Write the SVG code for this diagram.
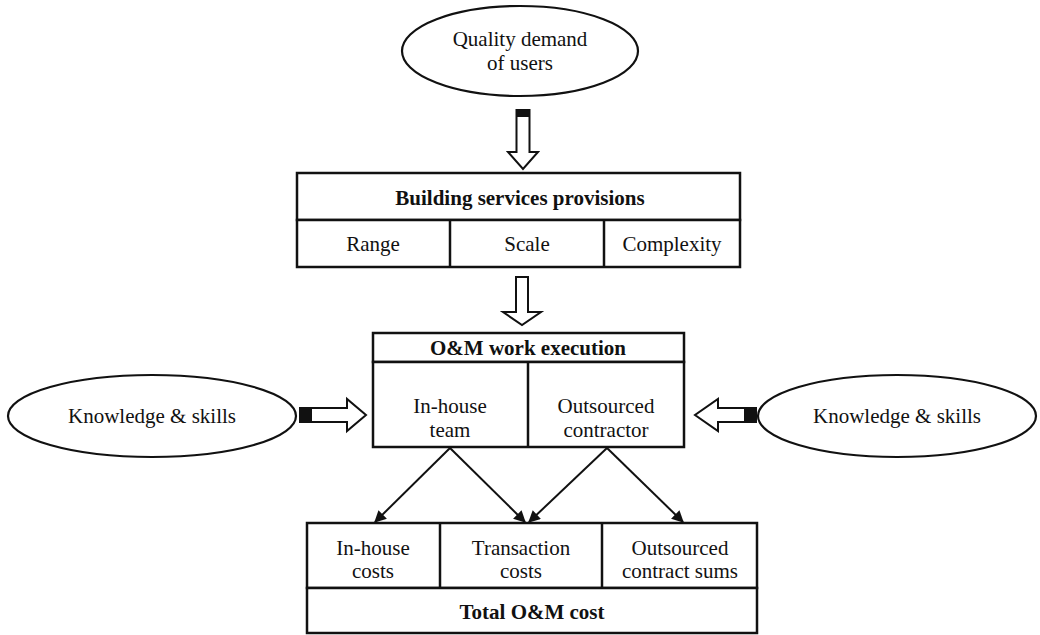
<svg xmlns="http://www.w3.org/2000/svg" width="1040" height="635" viewBox="0 0 1040 635">
  <style>
    .box { fill: #ffffff; stroke: #111111; stroke-width: 2.5; }
    .oval { fill: #ffffff; stroke: #111111; stroke-width: 2.2; }
    .block { fill: #ffffff; stroke: #111111; stroke-width: 2; stroke-linejoin: miter; }
    .tail { fill: #111111; }
    .link { stroke: #111111; stroke-width: 2; fill: none; }
    text { font-family: "Liberation Serif", "Times New Roman", serif; font-size: 21px; fill: #111111; text-anchor: middle; }
    .bold { font-weight: bold; }
  </style>
  <defs>
    <marker id="head" viewBox="0 0 10 10" refX="9" refY="5" markerWidth="13" markerHeight="12" markerUnits="userSpaceOnUse" orient="auto">
      <path d="M0,0 L10,5 L0,10 Z" fill="#111111"/>
    </marker>
  </defs>
  <rect width="1040" height="635" fill="#ffffff"/>

  <!-- user demand -->
  <g id="quality-demand">
    <ellipse class="oval" cx="520" cy="51" rx="118" ry="45"/>
    <text x="520" y="46">Quality demand</text>
    <text x="520" y="70">of users</text>
  </g>

  <!-- building services provisions -->
  <g id="building-services">
    <rect class="box" x="297" y="173" width="443" height="47"/>
    <rect class="box" x="297" y="220" width="443" height="47"/>
    <line class="box" x1="450" y1="220" x2="450" y2="267"/>
    <line class="box" x1="604" y1="220" x2="604" y2="267"/>
    <text class="bold" x="520" y="205">Building services provisions</text>
    <text x="373" y="251">Range</text>
    <text x="527" y="251">Scale</text>
    <text x="672" y="251">Complexity</text>
  </g>

  <!-- O&M work execution -->
  <g id="om-execution">
    <rect class="box" x="373" y="333" width="311" height="29"/>
    <rect class="box" x="373" y="362" width="311" height="85"/>
    <line class="box" x1="528" y1="362" x2="528" y2="447"/>
    <text class="bold" x="528" y="355">O&amp;M work execution</text>
    <text x="450" y="413">In-house</text>
    <text x="450" y="437">team</text>
    <text x="606" y="413">Outsourced</text>
    <text x="606" y="437">contractor</text>
  </g>

  <!-- knowledge inputs -->
  <g id="knowledge-left">
    <ellipse class="oval" cx="152" cy="416" rx="144" ry="41"/>
    <text x="152" y="423">Knowledge &amp; skills</text>
  </g>
  <g id="knowledge-right">
    <ellipse class="oval" cx="897" cy="416" rx="139" ry="41"/>
    <text x="897" y="423">Knowledge &amp; skills</text>
  </g>

  <!-- cost breakdown -->
  <g id="costs">
    <rect class="box" x="307" y="523" width="450" height="65"/>
    <line class="box" x1="440" y1="523" x2="440" y2="588"/>
    <line class="box" x1="602" y1="523" x2="602" y2="588"/>
    <text x="373" y="555">In-house</text>
    <text x="373" y="578">costs</text>
    <text x="521" y="555">Transaction</text>
    <text x="521" y="578">costs</text>
    <text x="680" y="555">Outsourced</text>
    <text x="680" y="578">contract sums</text>
  </g>
  <g id="total-cost">
    <rect class="box" x="307" y="588" width="450" height="45"/>
    <text class="bold" x="532" y="619">Total O&amp;M cost</text>
  </g>

  <!-- connectors -->
  <g id="connectors">
    <!-- block arrows -->
    <polygon class="block" points="516.5,110 529.5,110 529.5,152 538,152 523,169 508,152 516.5,152"/>
    <rect class="tail" x="516.5" y="110" width="13" height="7"/>
    <polygon class="block" points="516,277 528,277 528,312 541,312 522,325 503,312 516,312"/>
    <polygon class="block" points="300,408 347,408 347,399 366,415 347,431 347,422 300,422"/>
    <rect class="tail" x="300" y="408" width="12" height="14"/>
    <polygon class="block" points="756,408 718,408 718,399 695,415 718,431 718,422 756,422"/>
    <rect class="tail" x="744" y="408" width="12" height="14"/>
    <!-- cost flows -->
    <line class="link" x1="450" y1="448" x2="375" y2="522" marker-end="url(#head)"/>
    <line class="link" x1="450" y1="448" x2="525" y2="522" marker-end="url(#head)"/>
    <line class="link" x1="607" y1="448" x2="529" y2="522" marker-end="url(#head)"/>
    <line class="link" x1="607" y1="448" x2="683" y2="522" marker-end="url(#head)"/>
  </g>
</svg>
